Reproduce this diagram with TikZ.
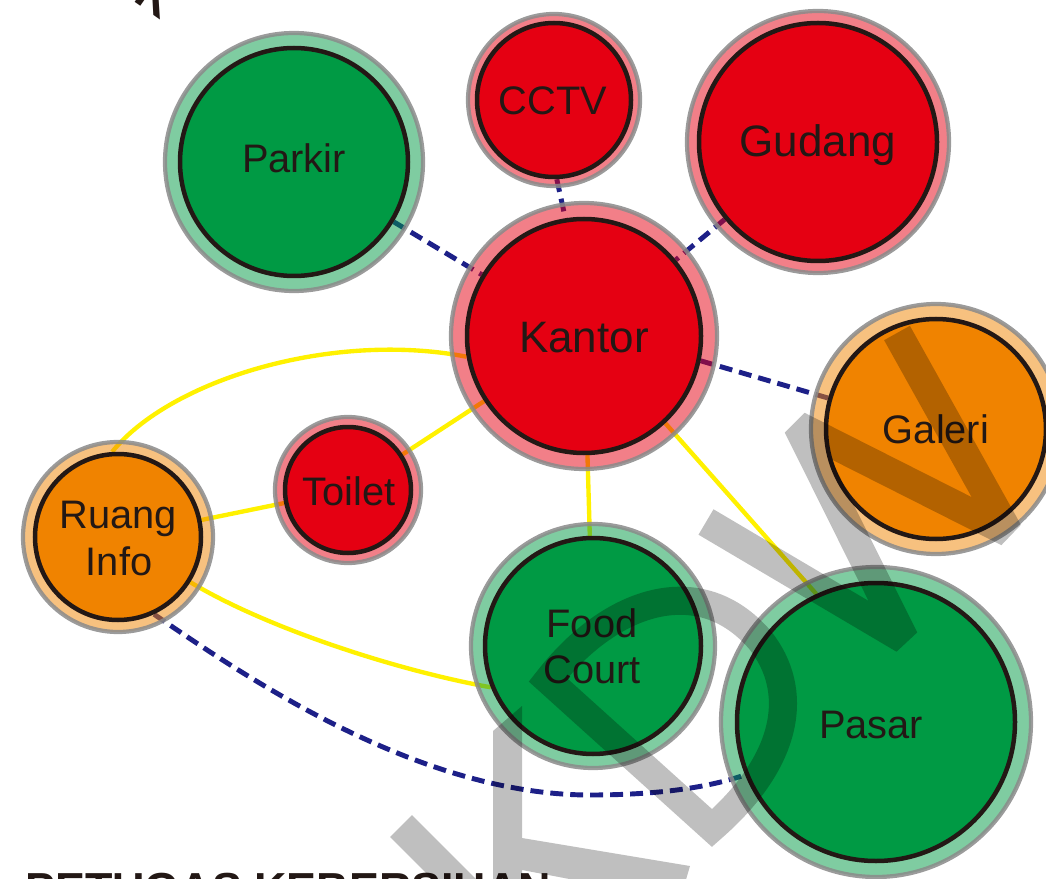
\documentclass[tikz,border=0pt]{standalone}
\usepackage{fontspec}
\setmainfont{Liberation Sans}
\pgfdeclarelayer{links}
\pgfsetlayers{links,main}
\definecolor{rd}{HTML}{E50012}
\definecolor{gn}{HTML}{009A44}
\definecolor{og}{HTML}{F08300}
\definecolor{ink}{HTML}{231815}
\definecolor{navy}{HTML}{1D2088}
\definecolor{yl}{HTML}{FFF100}
\definecolor{rim}{HTML}{8A8A8A}
\tikzset{
  disc/.style={circle, draw=ink, line width=3.2pt, inner sep=0pt},
  ringedge/.style={draw=rim, draw opacity=.85, line width=3pt},
  lbl/.style={anchor=base, text=ink, inner sep=0pt, font=\fontsize{28.3pt}{33pt}\selectfont},
  lblbig/.style={lbl, font=\fontsize{31.3pt}{36pt}\selectfont},
  walk/.style={yl, line width=3.1pt},
  duct/.style={navy, line width=3.5pt, dash pattern=on 9.2pt off 5pt},
  wm/.style={draw=black, draw opacity=.25, line width=20pt}
}
% room: name, x, y, inner radius, ring radius, colour
\newcommand{\roomdisc}[6]{%
  \fill[#6, fill opacity=.5] (#2,#3) circle (#5);
  \draw[ringedge] (#2,#3) circle (#5);
  \node[disc, fill=#6, minimum size={2*#4*0.025cm}] (#1) at (#2,#3) {};
}
\begin{document}
\begin{tikzpicture}[x=0.025cm, y=-0.025cm]
\useasboundingbox (0,0) rectangle (1046,879);
\clip (0,0) rectangle (1046,879);

% rooms
\roomdisc{parkir}{294}{162}{114}{129}{gn}
\roomdisc{cctv}{554}{100}{77}{86}{rd}
\roomdisc{gudang}{818}{142}{119}{131}{rd}
\roomdisc{kantor}{584}{336}{117}{133}{rd}
\roomdisc{galeri}{936}{429}{110}{125}{og}
\roomdisc{toilet}{348}{490}{63}{73}{rd}
\roomdisc{ruang}{118}{537}{83}{95}{og}
\roomdisc{food}{593}{646}{108}{122}{gn}
\roomdisc{pasar}{876}{722}{139}{155}{gn}

% labels
\node[lbl] (parkir-t) at (294,173) {Parkir};
\node[lbl] (cctv-t) at (553,115) {CCTV};
\node[lblbig] (gudang-t) at (818,157) {Gudang};
\node[lblbig] (kantor-t) at (584,352) {Kantor};
\node[lbl] (galeri-t) at (936,443) {Galeri};
\node[lbl] (toilet-t) at (349,505) {Toilet};
\node[lbl] (ruang-t1) at (118,528) {Ruang};
\node[lbl] (ruang-t2) at (119,575) {Info};
\node[lbl] (food-t1) at (592,637) {Food};
\node[lbl] (food-t2) at (592,683) {Court};
\node[lbl] (pasar-t) at (871,738) {Pasar};

% connections, drawn beneath the rooms
\begin{pgfonlayer}{links}
  \draw[duct] (parkir) -- (kantor);
  \draw[duct] (cctv.-88) -- (kantor.99);
  \draw[duct] (gudang) -- (kantor);
  \draw[duct] (kantor.-12) -- (galeri.164);
  \draw[duct] (ruang.-65) .. controls (250,680) and (420,795) .. (590,795)
                .. controls (660,795) and (710,787) .. (pasar.202);
  \draw[walk] (kantor) -- (toilet);
  \draw[walk] (ruang) -- (toilet);
  \draw[walk] (kantor) -- (food);
  \draw[walk] (kantor.-47) -- (pasar.115);
  \draw[walk] (ruang.94) .. controls +(58,-72) and +(-135,-26) .. (kantor.190);
  \draw[walk] (ruang.-32) .. controls +(78,47) and +(-90,-16) .. (food.202);
\end{pgfonlayer}

% caption text at the edges
\node[anchor=base west, inner sep=0pt, text=ink,
      font=\bfseries\fontsize{31.9pt}{36pt}\selectfont] (caption) at (25,904) {PETUGAS KEBERSIHAN};
\node[inner sep=0pt, text=ink, rotate=-35,
      font=\bfseries\fontsize{34pt}{38pt}\selectfont] (corner) at (156,-3) {K};

% watermark strokes
\fill[black, fill opacity=.25] (493,731) -- (522,706) -- (522,838) -- (690,866)
      -- (680,900) -- (522,870) -- (522,900) -- (493,900) -- cycle;
\draw[wm, line width=22pt] (401,826) -- (490,915);
\draw[wm, line join=miter] (712,828) -- (548,680)
      .. controls (610,600) and (700,570) .. (760,640)
      .. controls (800,690) and (790,760) .. (712,828) -- cycle;
\draw[wm, line width=21pt, line join=bevel] (706,522) -- (904,639) -- (798,426)
      -- (1008,532) -- (897,333);
\end{tikzpicture}
\end{document}
